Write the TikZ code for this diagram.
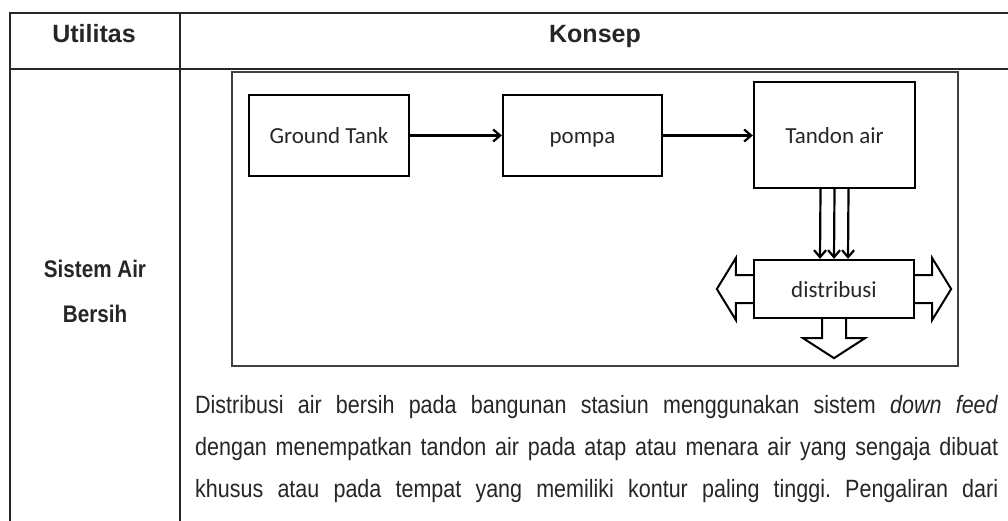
\documentclass[tikz,border=0pt]{standalone}
\usepackage{fontspec}
\setmainfont{Liberation Sans}
\newfontfamily\narrowfont[FakeStretch=0.86]{Liberation Sans}
\newfontfamily\boxfont{Carlito}
\usetikzlibrary{calc,arrows.meta}
\frenchspacing

\begin{document}
\begin{tikzpicture}[x=1pt,y=-1pt,
    grid/.style={line width=2pt,black!85},
    frame/.style={line width=1.3pt,black!75},
    box/.style={draw,line width=2.3pt,rectangle,inner sep=0pt,
        text height=20pt,text depth=3pt,
        font=\boxfont\fontsize{23}{26}\selectfont,text=black!85},
    flow/.style={line width=2.2pt,-{Straight Barb[length=7pt,width=12pt,line width=2.2pt]}},
    blockarr/.style={line width=2pt,line join=miter},
    head/.style={font=\bfseries\fontsize{25}{28}\selectfont,text=black!85,inner sep=0pt,anchor=base},
    line/.style={font=\narrowfont\fontsize{25}{30}\selectfont,text=black!85,inner sep=0pt,anchor=base west}]
    \useasboundingbox (0,0) rectangle (1008,521);

    % tabel
    \draw[grid] (10,13) -- (1012,13);
    \draw[grid] (10,69) -- (1012,69);
    \draw[grid] (10,12) -- (10,522);
    \draw[grid] (180,12) -- (180,522);

    \node[head] (utilitas) at (94,43) {Utilitas};
    \node[head] (konsep) at (595,43) {Konsep};
    \node[head,font=\narrowfont\bfseries\fontsize{24}{28}\selectfont] (sistem) at (95,277) {Sistem Air};
    \node[head,font=\narrowfont\bfseries\fontsize{24}{28}\selectfont] (bersih) at (95,322) {Bersih};

    % bingkai skema
    \draw[frame] (232,72) rectangle (958,366);

    \node[box,minimum width=160pt,minimum height=81pt] (ground) at (329,135.5) {Ground Tank};
    \node[box,minimum width=159pt,minimum height=81pt] (pompa) at (582.5,135.5) {pompa};
    \node[box,minimum width=161pt,minimum height=106pt] (tandon) at (834.5,135) {Tandon air};
    \node[box,minimum width=160pt,minimum height=58pt] (dist) at (834,289) {distribusi};

    \draw[flow] (ground.east) -- (pompa.west);
    \draw[flow] (pompa.east) -- (pompa.east -| tandon.west);
    \foreach \dx in {-14,0,14}
        \draw[flow] ([xshift=\dx pt]tandon.south) -- ([xshift=\dx pt]dist.north);

    % panah blok keluar dari distribusi
    \draw[blockarr] ($(dist.west)+(0,-14)$) -- ++(-17,0) -- ++(0,-17) -- ++(-19,31)
        -- ++(19,31) -- ++(0,-17) -- ++(17,0);
    \draw[blockarr] ($(dist.east)+(0,-14)$) -- ++(17,0) -- ++(0,-17) -- ++(19,31)
        -- ++(-19,31) -- ++(0,-17) -- ++(-17,0);
    \draw[blockarr] ($(dist.south)+(-12,0)$) -- ++(0,19) -- ++(-19,0) -- ++(31,20)
        -- ++(31,-20) -- ++(-19,0) -- ++(0,-19);

    % paragraf
    \node[line] (baris1) at (195,413) {\makebox[803pt][s]{Distribusi air bersih pada bangunan stasiun menggunakan sistem \textit{down feed}}};
    \node[line] (baris2) at (195,455) {\makebox[803pt][s]{dengan menempatkan tandon air pada atap atau menara air yang sengaja dibuat}};
    \node[line] (baris3) at (195,497) {\makebox[803pt][s]{khusus atau pada tempat yang memiliki kontur paling tinggi. Pengaliran dari}};
\end{tikzpicture}
\end{document}
